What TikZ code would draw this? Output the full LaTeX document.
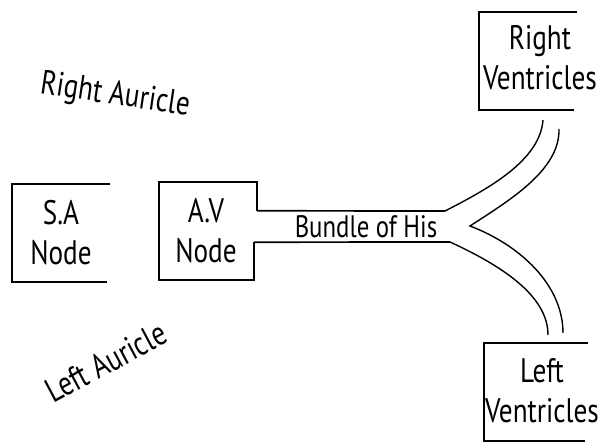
\documentclass[tikz,border=0pt]{standalone}
\usepackage{fontspec}
\setmainfont{PT Sans}[FakeStretch=0.8]
\usetikzlibrary{positioning,calc}

\begin{document}
\begin{tikzpicture}[x=1pt,y=-1pt,
    box/.style={minimum width=98pt,minimum height=98pt,inner sep=0pt},
    boxtext/.style={align=center,inner sep=0pt,font=\fontsize{34}{40}\selectfont},
    side/.style={font=\fontsize{34}{38}\selectfont,inner sep=0pt},
    bracket/.style={line width=1.7pt},
    fibre/.style={line width=1.4pt}]
\useasboundingbox (0,0) rectangle (611,443);

% the four boxes
\node[box] (sa) at (61,233) {};
\node[box] (av) at (208,231) {};
\node[box] (rv) at (528,61) {};
\node[box,minimum width=104pt] (lv) at (536,392) {};

\node[boxtext] (satext) at (sa.center) {S.A\\Node};
\node[boxtext] (avtext) at ([xshift=-2pt]av.center) {A.V\\Node};
\node[boxtext] (rvtext) at ([xshift=12pt,yshift=3pt]rv.center) {Right\\Ventricles};
\node[boxtext] (lvtext) at ([xshift=6pt,yshift=1pt]lv.center) {Left\\Ventricles};

% bundle of his
\node[side,font=\fontsize{31}{34}\selectfont,minimum height=31pt] (his) at (366,226.5) {Bundle of His};
\coordinate (fork1) at (445,211);
\coordinate (fork2) at (450,242);
\coordinate (tip) at (470,226);
\coordinate (rvend1) at (543,120);
\coordinate (rvend2) at (559,129);
\coordinate (lvend1) at (548,335);
\coordinate (lvend2) at (563,333);

% auricles
\node[side,rotate=-8.5] (ra) at (115,96) {Right Auricle};
\node[side,rotate=28] (la) at (106,362) {Left Auricle};

\draw[bracket] (sa.north east) -- (sa.north west) -- (sa.south west) -- ([xshift=-3pt]sa.south east);
\draw[bracket] (av.east |- his.north) -- (av.north east) -- (av.north west) -- (av.south west)
    -- ([xshift=-3pt]av.south east) -- ([xshift=-3pt]av.east |- his.south);
\draw[bracket] (rv.north east) -- (rv.north west) -- (rv.south west) -- ([xshift=-3pt]rv.south east);
\draw[bracket] (lv.north east) -- (lv.north west) -- (lv.south west) -- ([xshift=-3pt]lv.south east);

\draw[bracket] (av.east |- his.north) -- (fork1);
\draw[bracket] ([xshift=-3pt]av.east |- his.south) -- (fork2);

\draw[fibre] (fork1) .. controls (490,188) and (540,160) .. (rvend1);
\draw[fibre] (rvend2) .. controls (560,170) and (510,200) .. (tip)
    .. controls (520,245) and (563,285) .. (lvend2);
\draw[fibre] (fork2) .. controls (500,265) and (548,295) .. (lvend1);
\end{tikzpicture}
\end{document}
